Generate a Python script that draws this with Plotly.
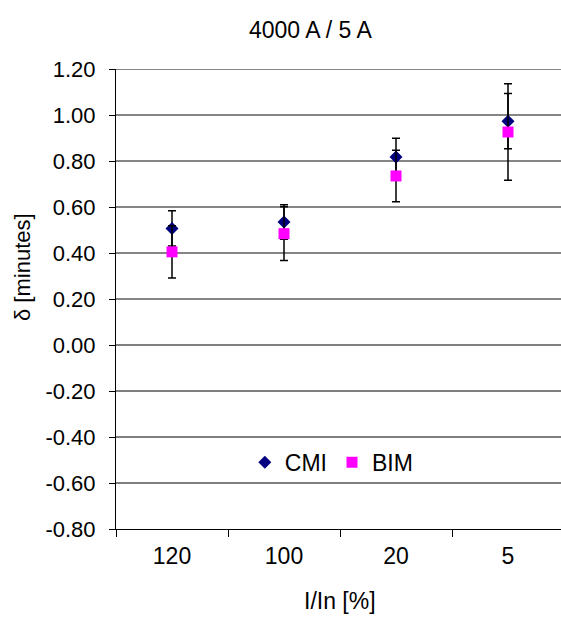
import plotly.graph_objects as go

# Current ratio categories (percent of rated current)
categories = ["120", "100", "20", "5"]

# Mean deviation and spread for each method
cmi_values = [0.507, 0.535, 0.817, 0.973]
cmi_errors = [0.077, 0.075, 0.082, 0.120]
bim_values = [0.405, 0.484, 0.735, 0.926]
bim_errors = [0.114, 0.117, 0.112, 0.210]

y_ticks = [-0.8, -0.6, -0.4, -0.2, 0.0, 0.2, 0.4, 0.6, 0.8, 1.0, 1.2]

FONT = "Liberation Sans, Arial, sans-serif"
FS = 23
FS_TICK = 22

fig = go.Figure()

fig.add_trace(go.Scatter(
    x=categories, y=cmi_values, mode="markers", name="CMI",
    marker=dict(symbol="diamond", size=10, color="#000080"),
    error_y=dict(type="data", array=cmi_errors, visible=True,
                 color="#000000", thickness=1.5, width=4),
))
fig.add_trace(go.Scatter(
    x=categories, y=bim_values, mode="markers", name="BIM",
    marker=dict(symbol="square", size=11, color="#FF00FF"),
    error_y=dict(type="data", array=bim_errors, visible=True,
                 color="#000000", thickness=1.5, width=4),
))

W, H = 561, 618
L, T, B = 116, 69, 89
plot_w = W - L
cat_w = 112.0
x_hi = -0.5 + plot_w / cat_w

# Horizontal gridlines: grey above zero, black from zero down
shapes = []
for v in y_ticks:
    if v <= -0.8:
        continue
    shapes.append(dict(
        type="line", xref="paper", yref="y", x0=0, x1=1, y0=v, y1=v,
        layer="below",
        line=dict(color="#858585" if v > 0 else "#000000",
                  width=2 if v > 0 else 1),
    ))

fig.update_layout(
    width=W, height=H,
    margin=dict(l=L, r=0, t=T, b=B),
    paper_bgcolor="white", plot_bgcolor="white",
    font=dict(family=FONT, size=FS, color="black"),
    showlegend=True,
    legend=dict(
        orientation="h", x=0.485, y=0.145, xanchor="center", yanchor="middle",
        bgcolor="rgba(0,0,0,0)", font=dict(size=FS),
        itemwidth=30, tracegroupgap=0,
    ),
    shapes=shapes,
    xaxis=dict(
        type="category", range=[-0.5, x_hi],
        showline=True, linecolor="black", linewidth=1,
        ticks="outside", ticklen=7, tickcolor="black", tickson="boundaries",
        showgrid=False, zeroline=False,
        tickfont=dict(size=FS), ticklabelstandoff=6,
    ),
    yaxis=dict(
        range=[-0.8, 1.2], tickvals=y_ticks,
        ticktext=[f"{v:.2f}" for v in y_ticks],
        showline=True, linecolor="black", linewidth=1,
        ticks="outside", ticklen=6, tickcolor="black",
        showgrid=False, zeroline=False,
        tickfont=dict(size=FS_TICK), ticklabelstandoff=9,
    ),
    annotations=[
        dict(text="4000 A / 5 A", x=310, y=H - 30, xref="paper", yref="paper",
             showarrow=False, font=dict(size=FS)),
        dict(text="I/In [%]", x=340, y=H - 601, xref="paper", yref="paper",
             showarrow=False, font=dict(size=FS)),
        dict(text="δ [minutes]", x=22, y=H - 267, xref="paper", yref="paper",
             showarrow=False, textangle=-90, font=dict(size=22)),
    ],
)

# Annotation positions above are given in pixels; convert to paper fractions
for ann in fig.layout.annotations:
    ann.x = (ann.x - L) / plot_w
    ann.y = (ann.y - B) / (H - T - B)
    ann.xanchor = "center"
    ann.yanchor = "middle"

fig.write_html("out.html")
